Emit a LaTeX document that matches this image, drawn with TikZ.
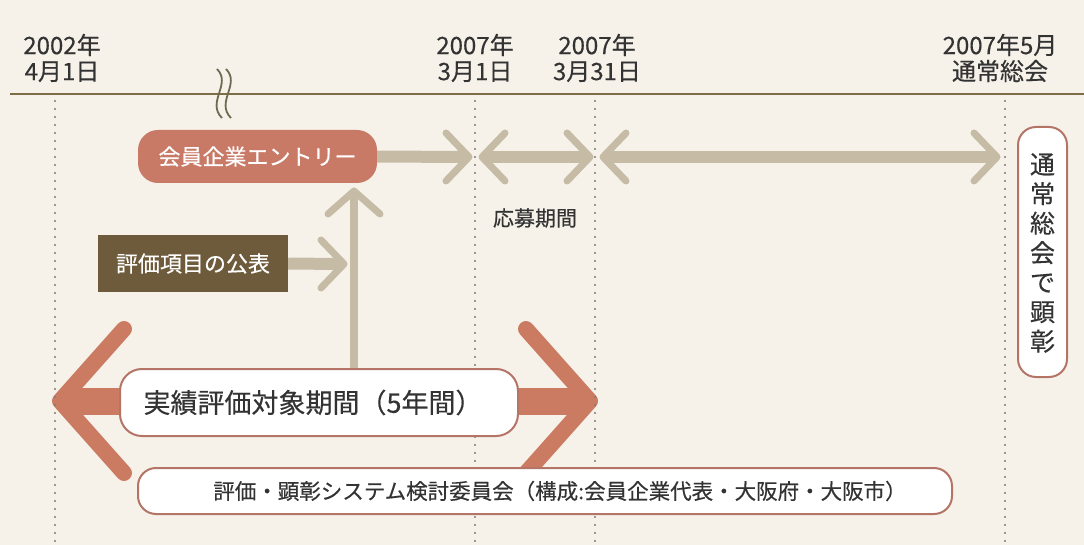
\documentclass[tikz,border=0pt]{standalone}
\usepackage{fontspec}
\setmainfont{Noto Sans CJK JP}[FakeBold=0.35]
\usetikzlibrary{calc}
\definecolor{bg}{HTML}{F6F2EA}
\definecolor{txt}{HTML}{333333}
\definecolor{axis}{HTML}{7C6C48}
\definecolor{dots}{HTML}{7E7B74}
\definecolor{salmon}{HTML}{C97A66}
\definecolor{brownbox}{HTML}{6E5B3B}
\definecolor{garrow}{HTML}{C6BCA6}
\definecolor{rarrow}{HTML}{CC7B63}
\definecolor{rborder}{HTML}{B57566}
\definecolor{breakc}{HTML}{6E6A50}
\begin{document}
\begin{tikzpicture}[x=1pt,y=-1pt,
  date/.style={font=\fontsize{24}{26}\selectfont, text=txt, align=center, inner sep=0pt},
  vdots/.style={dots, line width=2.2pt, line cap=round, dash pattern=on 0pt off 8pt},
  gshaft/.style={garrow, line width=12pt},
  ghead/.style={garrow, line width=7pt, line cap=round, line join=round},
  rshaft/.style={rarrow, line width=27pt},
  rhead/.style={rarrow, line width=16pt, line cap=round, line join=round},
  whitebox/.style={draw=rborder, line width=2pt, fill=white, rounded corners=20pt, inner sep=0pt},
  bodytext/.style={text=txt, inner sep=0pt}
]
\fill[bg] (0,0) rectangle (1084,545);
\useasboundingbox (0,0) rectangle (1084,545);

% timeline
\coordinate (axL) at (10,94);
\coordinate (axR) at (1084,94);
\draw[axis, line width=2.5pt] (axL) -- (axR);
\draw[breakc, line width=1.8pt] (217,69) .. controls (232,84) and (206,102) .. (222,118);
\draw[breakc, line width=1.8pt] (226,69) .. controls (241,84) and (215,102) .. (231,118);

% date labels
\node[date] (d0) at (62,58) {2002年\\4月1日};
\node[date] (d1) at (475,58) {2007年\\3月1日};
\node[date] (d2) at (597,58) {2007年\\3月31日};
\node[date] (d3) at (1000,58) {2007年5月\\通常総会};

% named points
\coordinate (a1) at (469,157);
\coordinate (a2) at (482,157);
\coordinate (a3) at (590,157);
\coordinate (a4) at (603,157);
\coordinate (a5) at (997,157);
\coordinate (b1) at (344,264);
\coordinate (v1) at (354,191);
\coordinate (r1) at (60,401);
\coordinate (r2) at (590,401);

% boxes (top ones)
\node[fill=salmon, rounded corners=20pt, minimum width=239pt, minimum height=53pt, inner sep=0pt,
      text=white, font=\fontsize{22}{26}\selectfont] (entry) at (257.5,156.5) {会員企業エントリー};
\node[fill=brownbox, minimum width=190pt, minimum height=57pt, inner sep=0pt,
      text=white, font=\fontsize{22}{26}\selectfont] (publish) at (193,263.5) {評価項目の公表};

% red double arrow
\draw[rshaft] ($(r1)+(8,0)$) -- ($(r2)+(-8,0)$);
\draw[rhead] ($(r1)+(64,-72)$) -- (r1) -- ($(r1)+(64,72)$);
\draw[rhead] ($(r2)+(-64,-72)$) -- (r2) -- ($(r2)+(-64,72)$);

% gray arrows
\draw[gshaft] (entry.east) -- ($(a1)+(-4,0)$);
\draw[ghead] ($(a1)+(-23,-24)$) -- (a1) -- ($(a1)+(-23,24)$);
\draw[gshaft] ($(a2)+(4,0)$) -- ($(a3)+(-4,0)$);
\draw[ghead] ($(a2)+(23,-24)$) -- (a2) -- ($(a2)+(23,24)$);
\draw[ghead] ($(a3)+(-23,-24)$) -- (a3) -- ($(a3)+(-23,24)$);
\draw[gshaft] ($(a4)+(4,0)$) -- ($(a5)+(-4,0)$);
\draw[ghead] ($(a4)+(23,-24)$) -- (a4) -- ($(a4)+(23,24)$);
\draw[ghead] ($(a5)+(-23,-24)$) -- (a5) -- ($(a5)+(-23,24)$);
\draw[gshaft] (publish.east) -- ($(b1)+(-4,0)$);
\draw[ghead] ($(b1)+(-23,-24)$) -- (b1) -- ($(b1)+(-23,24)$);

\node[bodytext, font=\fontsize{21}{24}\selectfont] (apply) at (535,218) {応募期間};

% dotted verticals
\coordinate (t0) at (55,101);
\coordinate (t1) at (475,101);
\coordinate (t2) at (595,101);
\coordinate (t3) at (1005,101);
\foreach \t in {t0,t1,t2,t3}{\draw[vdots] (\t) -- (\t |- 0,545);}

% lower boxes
\node[whitebox, minimum width=398pt, minimum height=67pt, rounded corners=22pt] (period) at (319,402.5) {};
\node[bodytext, font=\fontsize{27}{30}\selectfont] (periodtext) at (313,402.5) {実績評価対象期間（5年間）};
\draw[garrow, line width=8pt] (v1 |- period.north) -- ($(v1)+(0,3)$);
\draw[ghead] ($(v1)+(-26,23)$) -- (v1) -- ($(v1)+(26,23)$);

\node[whitebox, minimum width=814pt, minimum height=46pt, rounded corners=18pt] (committee) at (545,491) {};
\node[bodytext, font=\fontsize{21.5}{24}\selectfont] (committeetext) at (560,491) {評価・顕彰システム検討委員会（構成:会員企業代表・大阪府・大阪市）};

\node[whitebox, minimum width=49pt, minimum height=250pt, rounded corners=18pt] (award) at (1042.5,252) {};
\node[bodytext, font=\fontsize{25}{29.5}\selectfont, align=center] (awardtext) at (1042.5,253) {通\\常\\総\\会\\で\\顕\\彰};
\end{tikzpicture}
\end{document}
